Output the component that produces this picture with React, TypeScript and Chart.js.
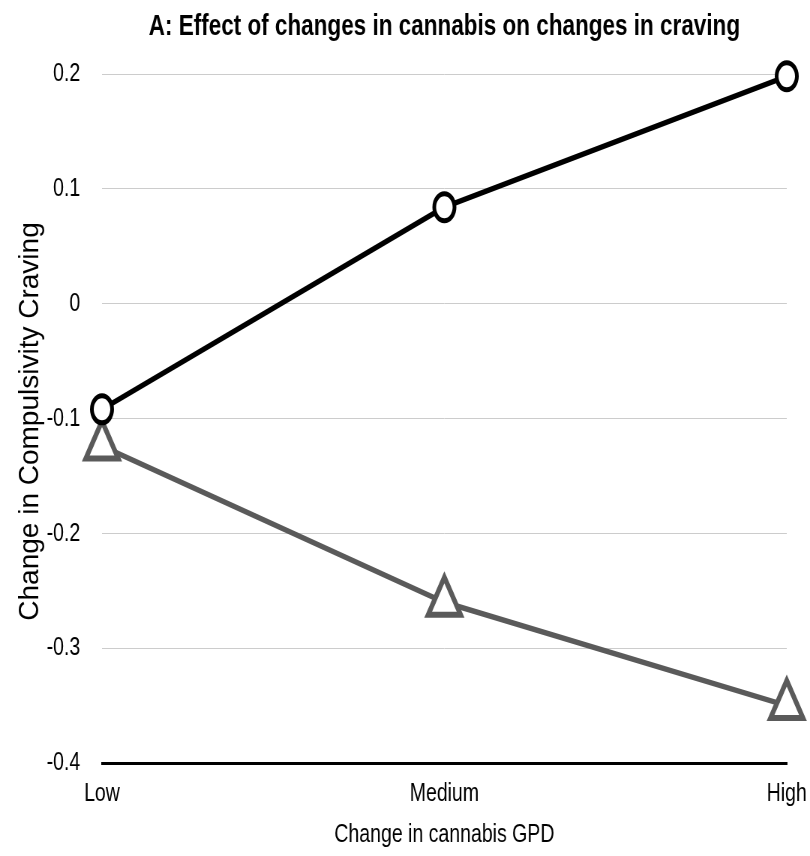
import React, { useEffect, useRef } from 'react';
import { Chart, registerables } from 'chart.js';

Chart.register(...registerables);

// ---- data ----
const categories = ['Low', 'Medium', 'High'];
const circleSeries = [-0.092, 0.084, 0.198];
const triangleSeries = [-0.124, -0.26, -0.35];
const yTickValues = [-0.4, -0.3, -0.2, -0.1, 0, 0.1, 0.2];
const yTickLabels = ['-0.4', '-0.3', '-0.2', '-0.1', '0', '0.1', '0.2'];
const titleText = 'A: Effect of changes in cannabis on changes in craving';
const xTitleText = 'Change in cannabis GPD';
const yTitleText = 'Change in Compulsivity Craving';

// ---- layout ----
const SX = 0.75; // horizontal squeeze of the whole picture
const W = 1080;
const H = 856;
const FONT = '"Liberation Sans", Arial, Helvetica, sans-serif';

const helperPlugin = {
  id: 'helperPlugin',
  afterLayout(chart: any) {
    // centre the title over the plotting area
    const tb = chart.titleBlock;
    if (tb) {
      tb.left = chart.chartArea.left;
      tb.right = chart.chartArea.right;
      tb.width = tb.right - tb.left;
    }
  },
  afterDraw(chart: any) {
    const { ctx, chartArea } = chart;
    ctx.save();
    ctx.translate(38 / SX, (chartArea.top + chartArea.bottom) / 2 + 3);
    ctx.scale(1 / SX, 1);
    ctx.rotate(-Math.PI / 2);
    ctx.font = `28px ${FONT}`;
    ctx.fillStyle = '#000';
    ctx.textAlign = 'center';
    ctx.textBaseline = 'alphabetic';
    ctx.fillText(yTitleText, 0, 0);
    ctx.restore();
  },
};

export default function App() {
  const ref = useRef<HTMLCanvasElement>(null);

  useEffect(() => {
    const canvas = ref.current;
    if (!canvas) return;
    const chart = new Chart(canvas, {
      type: 'line',
      data: {
        labels: categories,
        datasets: [
          {
            data: circleSeries,
            borderColor: '#000000',
            borderWidth: 5.5,
            pointStyle: 'circle',
            pointRadius: 13.5,
            pointHoverRadius: 13.5,
            pointBorderWidth: 5,
            pointBackgroundColor: '#ffffff',
            pointBorderColor: '#000000',
            tension: 0,
            clip: false as any,
          },
          {
            data: triangleSeries,
            borderColor: '#5a5a5a',
            borderWidth: 5.5,
            pointStyle: 'triangle',
            pointRadius: 25,
            pointHoverRadius: 25,
            pointBorderWidth: 6,
            pointBackgroundColor: '#ffffff',
            pointBorderColor: '#5a5a5a',
            tension: 0,
            clip: false as any,
          },
        ],
      },
      options: {
        responsive: false,
        animation: false,
        devicePixelRatio: 1,
        layout: { padding: { left: 0, right: 28, top: 0, bottom: 0 } },
        plugins: {
          legend: { display: false },
          tooltip: { enabled: false },
          title: {
            display: true,
            text: titleText,
            color: '#000',
            font: { family: FONT, size: 30, weight: 'bold' },
            padding: { top: 9, bottom: 29 },
          },
        },
        scales: {
          x: {
            type: 'category',
            offset: false,
            grid: { display: false, drawTicks: false },
            border: { display: true, color: '#000', width: 3 },
            ticks: {
              color: '#000',
              font: { family: FONT, size: 26 },
              padding: 15,
              maxRotation: 0,
              autoSkip: false,
            },
            title: {
              display: true,
              text: xTitleText,
              color: '#000',
              font: { family: FONT, size: 26 },
              padding: { top: 0, bottom: 6 },
            },
            afterFit(scale: any) {
              scale.height = 93;
              scale.paddingLeft = 0;
              scale.paddingRight = 0;
            },
          },
          y: {
            min: -0.4,
            max: 0.2,
            grid: { color: '#cccccc', lineWidth: 1, drawTicks: false },
            border: { display: false },
            afterBuildTicks(scale: any) {
              scale.ticks = yTickValues.map((v) => ({ value: v }));
            },
            ticks: {
              color: '#000',
              font: { family: FONT, size: 26 },
              padding: 29,
              callback: (value: any) => {
                const i = yTickValues.findIndex((t) => Math.abs(t - Number(value)) < 1e-9);
                return i >= 0 ? yTickLabels[i] : '';
              },
            },
            afterFit(scale: any) {
              scale.width = 136;
              scale.paddingTop = 0;
              scale.paddingBottom = 0;
            },
          },
        },
      },
      plugins: [helperPlugin],
    });
    return () => chart.destroy();
  }, []);

  return (
    <div
      style={{
        position: 'absolute',
        left: 0,
        top: 0,
        width: 810,
        height: 856,
        overflow: 'hidden',
        background: '#fff',
      }}
    >
      <div style={{ width: W, height: H, transform: `scaleX(${SX})`, transformOrigin: '0 0' }}>
        <canvas ref={ref} width={W} height={H} style={{ display: 'block', width: W, height: H }} />
      </div>
    </div>
  );
}
